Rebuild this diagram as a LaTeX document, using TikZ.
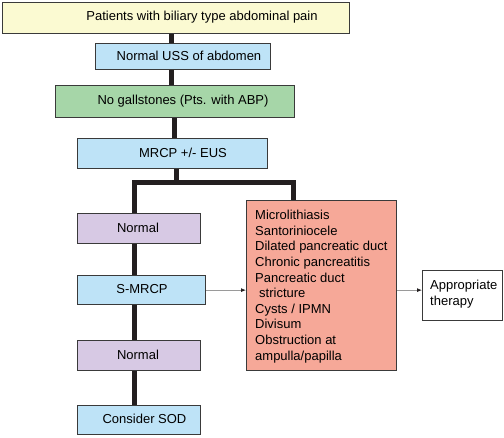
\documentclass[tikz,border=0pt]{standalone}
\usepackage{fontspec}
\setmainfont{Liberation Sans}
\usetikzlibrary{arrows.meta}
\definecolor{cyel}{HTML}{FBFAD2}
\definecolor{cblue}{HTML}{BEE3F7}
\definecolor{cgreen}{HTML}{A6D6A8}
\definecolor{cpurp}{HTML}{D7C9E4}
\definecolor{cred}{HTML}{F6A898}
\definecolor{cline}{HTML}{231F20}
\definecolor{cborder}{HTML}{3A3A3A}
\definecolor{carrow}{HTML}{9A9A9A}
\begin{document}
\begin{tikzpicture}[x=1pt,y=-1pt,
  box/.style={draw=cborder, line width=1.3pt, inner sep=0pt, anchor=north west},
  lbl/.style={inner sep=0pt, anchor=base, font=\fontsize{13}{15.6}\selectfont},
  mlbl/.style={inner sep=0pt, anchor=north west, align=left, font=\fontsize{13}{15.6}\selectfont},
  conn/.style={draw=cline, line width=5pt, line join=miter},
  arr/.style={draw=carrow, line width=0.8pt, -{Latex[length=5pt,width=4pt,color=cline]}}]
\useasboundingbox (0,0) rectangle (504,437);
% boxes
\node[box, fill=cyel,  minimum width=347pt, minimum height=31pt] (top) at (2,2) {};
\node[box, fill=cblue, minimum width=175pt, minimum height=26pt] (uss) at (95,43) {};
\node[box, fill=cgreen,minimum width=239pt, minimum height=32pt] (gs) at (55,85) {};
\node[box, fill=cblue, minimum width=190pt, minimum height=30pt] (mrcp) at (77,138) {};
\node[box, fill=cpurp, minimum width=123pt, minimum height=30pt] (norma) at (77,213) {};
\node[box, fill=cblue, minimum width=128pt, minimum height=29pt] (smrcp) at (77,275) {};
\node[box, fill=cpurp, minimum width=123pt, minimum height=30pt] (normb) at (77,340) {};
\node[box, fill=cblue, minimum width=123pt, minimum height=29pt] (sod) at (77,405) {};
\node[box, fill=cred,  minimum width=150pt, minimum height=170pt] (red) at (246,200) {};
\node[box, fill=white, minimum width=80pt, minimum height=50pt] (ther) at (422,270) {};
% texts
\node[lbl] (top-t) at (202,20) {Patients with biliary type abdominal pain};
\node[lbl] (uss-t) at (189,60) {Normal USS of abdomen};
\node[lbl] (gs-t) at (183,104) {No gallstones (Pts. with ABP)};
\node[lbl] (mrcp-t) at (183,157) {MRCP +/- EUS};
\node[lbl] (norma-t) at (138,232) {Normal};
\node[lbl] (smrcp-t) at (142,293) {S-MRCP};
\node[lbl] (normb-t) at (138,359) {Normal};
\node[lbl] (sod-t) at (144.5,423) {Consider SOD};
\node[mlbl] (red-t) at (255,210) {Microlithiasis\\Santoriniocele\\Dilated pancreatic duct\\Chronic pancreatitis\\Pancreatic duct\\\hspace{4pt}stricture\\Cysts / IPMN\\Divisum\\Obstruction at\\ampulla/papilla};
\node[mlbl] (ther-t) at (430,280) {Appropriate\\therapy};
% connector guides
\coordinate (c1) at (171,0);
\coordinate (c2) at (174,0);
\coordinate (c3) at (176,0);
\coordinate (jl) at (134,182);
\coordinate (jr) at (293,182);
% connectors
\draw[conn] (top.south -| c1) -- (uss.north -| c1);
\draw[conn] (uss.south -| c1) -- (gs.north -| c1);
\draw[conn] (gs.south -| c2) -- (mrcp.north -| c2);
\draw[conn] (mrcp.south -| c3) -- (c3 |- jl);
\draw[conn] (norma.north -| jl) -- (jl) -- (jr) -- (red.north -| jr);
\draw[conn] (norma.south -| jl) -- (smrcp.north -| jl);
\draw[conn] (smrcp.south -| jl) -- (normb.north -| jl);
\draw[conn] (normb.south -| jl) -- (sod.north -| jl);
\draw[arr] (smrcp.east) -- (smrcp.east -| red.west);
\draw[arr] (red.east |- smrcp.east) -- (ther.west |- smrcp.east);
\end{tikzpicture}
\end{document}
